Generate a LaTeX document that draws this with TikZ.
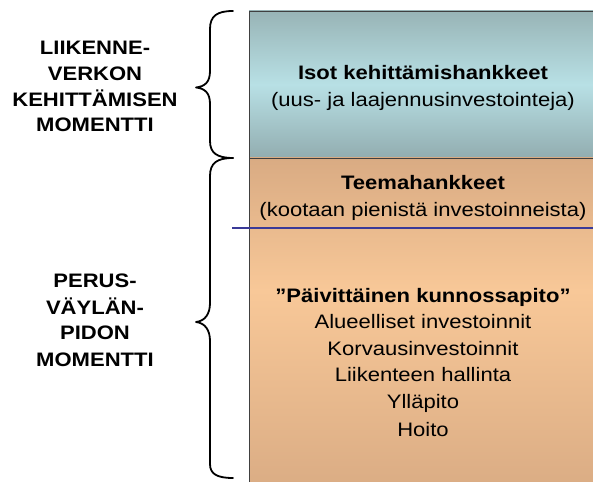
\documentclass[tikz,border=0pt]{standalone}
\usepackage{fontspec}
\setmainfont{Liberation Sans}
\newfontfamily\widesans[FakeStretch=1.13]{Liberation Sans}
\definecolor{tealT}{HTML}{98B4B6}
\definecolor{tealM}{HTML}{B8E0E5}
\definecolor{tealB}{HTML}{92ADB0}
\definecolor{tanT}{HTML}{D9AB83}
\definecolor{tanM}{HTML}{F8C898}
\definecolor{tanB}{HTML}{DAAC84}
\definecolor{sepblue}{HTML}{3A3A98}
\begin{document}
\begin{tikzpicture}[x=1pt,y=1pt,
  txt/.style={font=\widesans\fontsize{19.5}{22}\selectfont, inner sep=0pt, anchor=base},
  btxt/.style={txt, font=\widesans\bfseries\fontsize{19.5}{22}\selectfont},
  bracepath/.style={line width=1.8pt, line cap=round, line join=round},
  frame/.style={draw=black!75, line width=0.9pt},
  sepline/.style={draw=sepblue, line width=2.2pt}]
\useasboundingbox (0,0) rectangle (593,481);
\clip (0,0) rectangle (593,481);

% development block
\shade[top color=tealT, bottom color=tealB, middle color=tealM] (249,323) rectangle (600,470);
% maintenance block, lightest a little above its middle
\shade[top color=tanT, bottom color=tanM] (249,190.5) rectangle (600,323);
\shade[top color=tanM, bottom color=tanB] (249,-10) rectangle (600,191);
\draw[frame] (600,470) -- (249,470) -- (249,-10);
\draw[frame] (249,323) -- (600,323);

% separator between theme projects and daily upkeep
\coordinate (sepL) at (232,253);
\coordinate (sepR) at (600,253);
\draw[sepline] (sepL) -- (sepR);

% braces
\draw[bracepath] (233,470) .. controls (217,470) and (210,465) .. (210,452)
  -- (210,410) .. controls (210,399) and (205,394.5) .. (196,393.5)
  .. controls (205,392.5) and (210,388) .. (210,377)
  -- (210,340) .. controls (210,328) and (217,323) .. (233,323);
\draw[bracepath] (233,323) .. controls (217,323) and (210,318) .. (210,305)
  -- (210,178) .. controls (210,167) and (205,160) .. (196,159)
  .. controls (205,158) and (210,151) .. (210,140)
  -- (210,17) .. controls (210,7) and (217,3) .. (233,3);

% left labels
\node[btxt] (l1) at (95,426) {LIIKENNE-};
\node[btxt] (l2) at (95,400) {VERKON};
\node[btxt] (l3) at (95,374) {KEHITTÄMISEN};
\node[btxt] (l4) at (95,349) {MOMENTTI};
\node[btxt] (p1) at (95,193) {PERUS-};
\node[btxt] (p2) at (95,166) {VÄYLÄN-};
\node[btxt] (p3) at (95,141) {PIDON};
\node[btxt] (p4) at (95,114) {MOMENTTI};

% block texts
\node[btxt] (isot) at (423,401) {Isot kehittämishankkeet};
\node[txt]  (uus)  at (423,374) {(uus- ja laajennusinvestointeja)};
\node[btxt] (teema) at (423,291) {Teemahankkeet};
\node[txt]  (koot)  at (423,264) {(kootaan pienistä investoinneista)};
\node[btxt] (paiv) at (423,178) {”Päivittäinen kunnossapito”};
\node[txt]  (alue) at (423,152) {Alueelliset investoinnit};
\node[txt]  (korv) at (423,125) {Korvausinvestoinnit};
\node[txt]  (liik) at (423,99)  {Liikenteen hallinta};
\node[txt]  (yll)  at (423,72)  {Ylläpito};
\node[txt]  (hoito) at (423,45) {Hoito};
\end{tikzpicture}
\end{document}
